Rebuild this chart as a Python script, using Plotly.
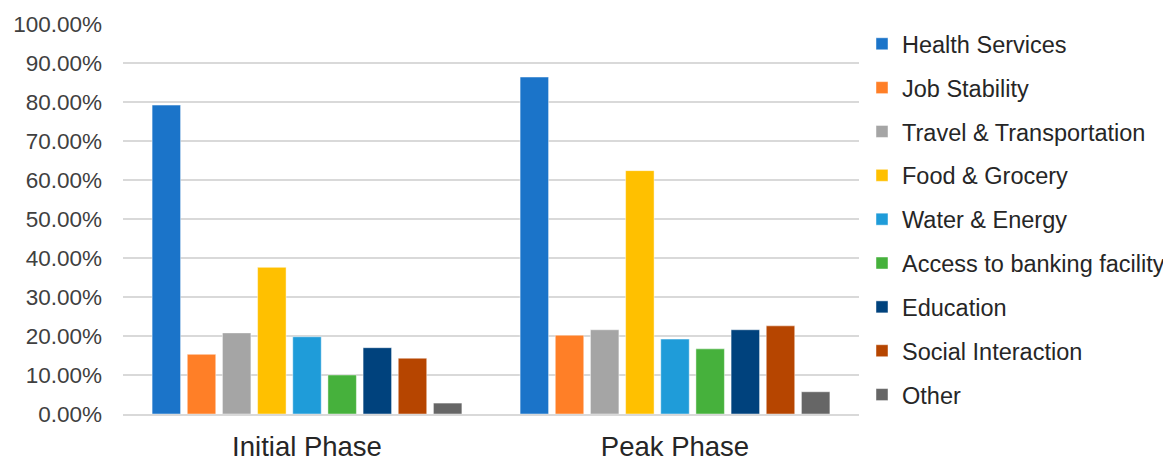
import plotly.graph_objects as go

phases = ["Initial Phase", "Peak Phase"]
categories = ["Health Services", "Job Stability", "Travel & Transportation",
              "Food & Grocery", "Water & Energy", "Access to banking facility",
              "Education", "Social Interaction", "Other"]
initial_vals = [0.792, 0.153, 0.208, 0.376, 0.198, 0.100, 0.170, 0.143, 0.028]
peak_vals = [0.864, 0.202, 0.216, 0.624, 0.192, 0.167, 0.216, 0.226, 0.057]
colors = ["#1B74C9", "#FF7F27", "#A5A5A5", "#FFC000", "#1F9CD9",
          "#46B13C", "#00427D", "#B64500", "#666666"]

fig = go.Figure()
for i, cat in enumerate(categories):
    fig.add_trace(go.Bar(
        name=cat, x=phases, y=[initial_vals[i], peak_vals[i]],
        marker=dict(color=colors[i], line=dict(color="rgba(255,255,255,0.45)", width=1)),
        legendgroup=cat,
    ))

fig.update_layout(
    width=1171, height=460,
    barmode="group", bargap=0.14, bargroupgap=0.19,
    paper_bgcolor="white", plot_bgcolor="white",
    margin=dict(l=115, r=320, t=16, b=54, autoexpand=False),
    font=dict(family="Liberation Sans, Arial, sans-serif", color="#262626"),
    legend=dict(
        xref="container", yref="container", x=854/1171, y=1 - 14/460,
        xanchor="left", yanchor="top",
        font=dict(size=23.5, color="#262626"),
        tracegroupgap=10.3, traceorder="grouped",
        bgcolor="rgba(0,0,0,0)", maxheight=460,
    ),
    showlegend=True,
)
fig.update_yaxes(
    range=[0, 1], dtick=0.1, tickformat=".2%",
    showgrid=True, gridcolor="#D9D9D9", gridwidth=1.5,
    zeroline=False, showline=False, automargin=False,
    tickfont=dict(size=22.5, color="#404040"),
    ticklabelstandoff=20,
)
fig.update_xaxes(
    showline=True, linecolor="#D9D9D9", linewidth=1.5, automargin=False,
    tickfont=dict(size=27.5, color="#262626"),
    ticks="", ticklabelstandoff=7,
)

fig.write_html("out.html")
